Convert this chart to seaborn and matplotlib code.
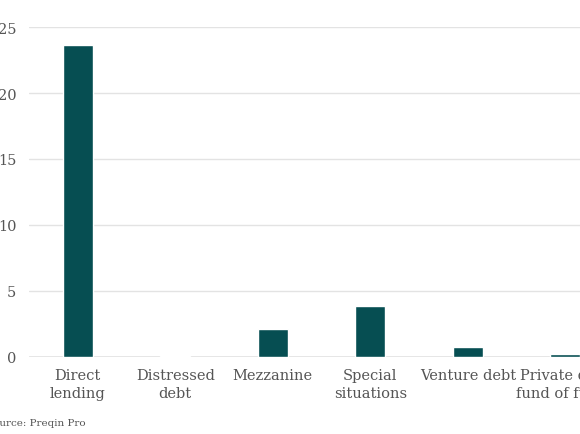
import numpy as np
import pandas as pd
import matplotlib
matplotlib.use('Agg')
import matplotlib.pyplot as plt
import seaborn as sns

# Data
strategies = ['Direct\nlending', 'Distressed\ndebt', 'Mezzanine',
              'Special\nsituations', 'Venture debt', 'Private debt\nfund of funds']
values = [23.6, 0.05, 2.1, 3.9, 0.75, 0.2]
yticks = [0, 5, 10, 15, 20, 25]

df = pd.DataFrame({'Strategy': strategies, 'Value': values})

sns.set_theme(style='white')
plt.rcParams['font.family'] = ['DejaVu Serif']

fig = plt.figure(figsize=(5.8, 4.35), dpi=100)
# axes deliberately run past the right edge (reference is cropped)
ax = fig.add_axes([29 / 580, 77 / 435, 585 / 580, 330 / 435])

sns.barplot(data=df, x='Strategy', y='Value', color='#064e52',
            width=0.31, saturation=1, ax=ax, zorder=3)

ax.set_ylim(0, 25)
ax.set_yticks(yticks)
ax.yaxis.grid(True, color='#e3e3e3', linewidth=1, zorder=0)
ax.set_axisbelow(True)
for s in ax.spines.values():
    s.set_visible(False)
ax.axhline(0, color='#e3e3e3', linewidth=1.2, zorder=1)
ax.set_xlabel('')
ax.set_ylabel('')
ax.tick_params(axis='y', length=0, pad=9, labelsize=10.5, labelcolor='#555555')
ax.tick_params(axis='x', length=0, pad=8, labelsize=10.5, labelcolor='#555555')
for lbl in ax.get_xticklabels():
    lbl.set_linespacing(1.35)

fig.text(-14 / 580, 1 - 424 / 435, 'Source: Preqin Pro', fontsize=7.5,
         color='#555555', va='center', ha='left')

fig.savefig('out.png', dpi=100)
plt.close()
